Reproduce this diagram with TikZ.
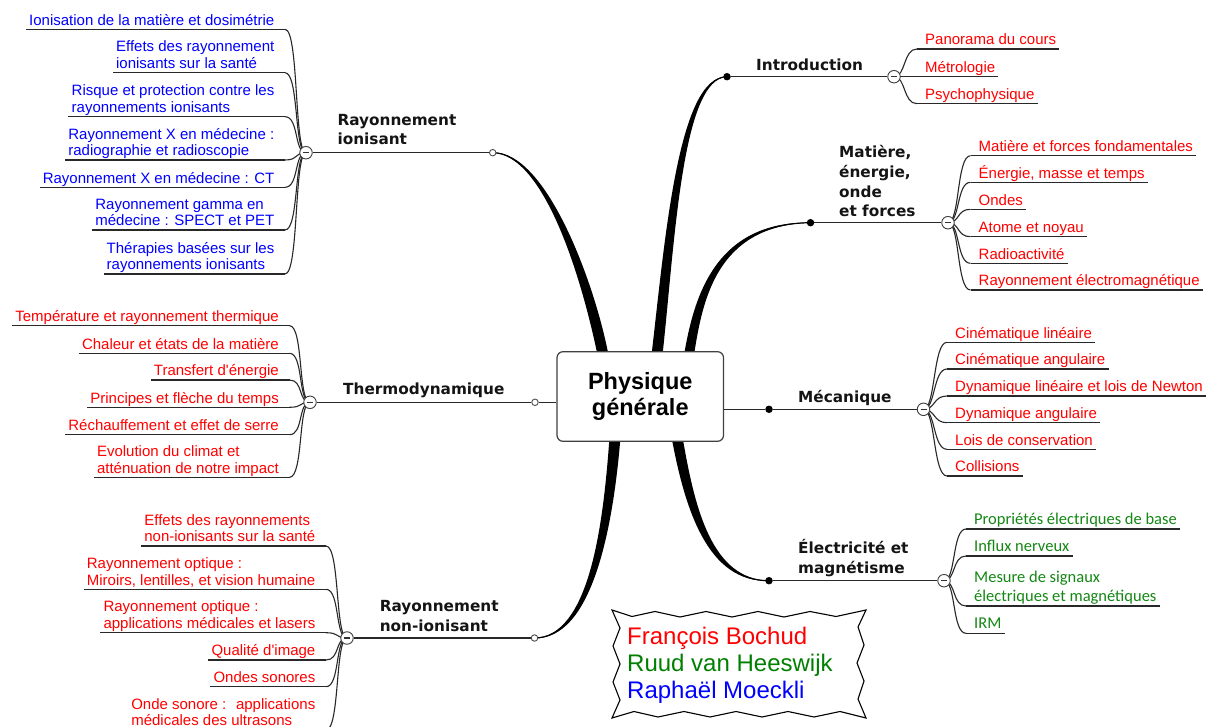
\documentclass[tikz,border=0pt]{standalone}
\usepackage{fontspec}
\setmainfont{Liberation Sans}
\newfontfamily\catfont{DejaVu Sans}
\newfontfamily\grfont{Carlito}
\usetikzlibrary{calc}
\pgfdeclarelayer{bg}
\pgfsetlayers{bg,main}
\definecolor{itred}{RGB}{255,0,0}
\definecolor{itblue}{RGB}{0,0,255}
\definecolor{itgreen}{RGB}{0,128,0}
\definecolor{grn}{RGB}{20,135,20}
\definecolor{lnc}{RGB}{40,40,40}
\tikzset{
  rtxt/.style={anchor=south west, inner sep=0pt, align=left, font=\fontsize{15}{16.7}\selectfont},
  ltxt/.style={anchor=south east, inner sep=0pt, align=left, font=\fontsize{15}{16.7}\selectfont},
  redR/.style={rtxt, text=itred},
  redL/.style={ltxt, text=itred},
  blueL/.style={ltxt, text=itblue},
  greenR/.style={anchor=south west, inner sep=0pt, align=left, font=\grfont\fontsize{16.5}{19}\selectfont, text=grn},
  cat/.style={anchor=south west, inner sep=0pt, align=left, font=\catfont\bfseries\fontsize{15.3}{19.7}\selectfont, text=black!92},
  uline/.style={draw=lnc, line width=1.1pt},
  conn/.style={draw=lnc, line width=1.1pt},
  mline/.style={draw=lnc, line width=1.3pt},
  mcirc/.style={circle, draw=black!75, fill=white, line width=0.9pt, minimum size=12.5pt, inner sep=0pt,
    path picture={\draw[line width=1.2pt, black!80] ([xshift=-3pt]path picture bounding box.center) -- ([xshift=3pt]path picture bounding box.center);}},
  dotn/.style={circle, fill=black, minimum size=7.5pt, inner sep=0pt},
  opn/.style={circle, draw=black!70, fill=white, line width=0.9pt, minimum size=6.5pt, inner sep=0pt},
  centre/.style={draw=black!75, line width=1.2pt, fill=white, rounded corners=6pt, minimum width=166.5pt, minimum height=89.6pt, align=center, font=\bfseries\fontsize{23.5}{26.7}\selectfont},
  branch/.style={fill=black},
  spine/.style={draw=black, line width=1.2pt},
}
% right-hand sub-topic: id, circle, underline start x, underline y, style, text
\newcommand\RItem[6]{%
  \coordinate (#1u) at (#3,#4);
  \node[#5] (#1) at (#3+8,#4+1) {#6\strut};
  \begin{pgfonlayer}{bg}
    \draw[uline] (#1u) -- ($(#1.south east |- #1u)+(3,0)$);
    \draw[conn] (#2.center) .. controls +(12,0) and +(-14,0) .. (#1u);
  \end{pgfonlayer}}
% left-hand sub-topic: id, circle, underline end x, underline y, style, text
\newcommand\LItem[6]{%
  \coordinate (#1u) at (#3,#4);
  \node[#5] (#1) at (#3-10.5,#4+1) {#6\strut};
  \begin{pgfonlayer}{bg}
    \draw[uline] (#1u) -- ($(#1.south west |- #1u)+(-3,0)$);
    \draw[conn] (#2.center) .. controls +(-12,0) and +(14,0) .. (#1u);
  \end{pgfonlayer}}
\begin{document}
\begin{tikzpicture}[x=1pt,y=-1pt]
\useasboundingbox (0,0) rectangle (1209,727);
\begin{pgfonlayer}{bg}
  \fill[white] (0,0) rectangle (1209,727);
\end{pgfonlayer}

% central topic
\node[centre] (box) at (640.25,396.5) {Physique\\générale};

% knots
\node[dotn] (D1) at (727,76.7) {};
\node[dotn] (D2) at (810.5,222.7) {};
\node[dotn] (D3) at (769,409.3) {};
\node[dotn] (D4) at (769,580.7) {};
\node[opn] (O1) at (492.7,152.7) {};
\node[opn] (O2) at (535,402.3) {};
\node[opn] (O3) at (534.5,638) {};
\node[mcirc] (C4) at (894,76.7) {};
\node[mcirc] (C5) at (948,222.7) {};
\node[mcirc] (C6) at (923.5,409.3) {};
\node[mcirc] (C7) at (944,580.7) {};
\node[mcirc] (C1) at (306,152.7) {};
\node[mcirc] (C2) at (310,402.3) {};
\node[mcirc] (C3) at (347,638) {};

% branch bases
\coordinate (bA) at (603,355);
\coordinate (bB) at (657,355);
\coordinate (bC) at (689,355);
\coordinate (bE) at (677,437);
\coordinate (bF) at (615,437);

\begin{pgfonlayer}{bg}
  % tapered main branches
  \fill[branch] (597.5,355) .. controls (582,280) and (545,155) .. (O1.center)
     .. controls (545,150) and (594,280) .. (608.5,355) -- cycle;
  \draw[spine] (bA) .. controls (588,280) and (545,152.5) .. (O1.center);
  \fill[branch] (651.5,355) .. controls (665,240) and (678,75) .. (D1.center)
     .. controls (682,79) and (675,240) .. (662.5,355) -- cycle;
  \draw[spine] (bB) .. controls (670,240) and (680,77) .. (D1.center);
  \fill[branch] (684,355) .. controls (693.5,300) and (713.5,221) .. (D2.center)
     .. controls (716.5,225.5) and (702.5,300) .. (694,355) -- cycle;
  \draw[spine] (bC) .. controls (698,300) and (715,223.5) .. (D2.center);
  \fill[branch] (671.5,437) .. controls (685,510) and (708,583) .. (D4.center)
     .. controls (712,579) and (695,510) .. (682.5,437) -- cycle;
  \draw[spine] (bE) .. controls (690,510) and (710,581) .. (D4.center);
  \fill[branch] (609.5,437) .. controls (603,530) and (588.5,636) .. (O3.center)
     .. controls (591.5,640) and (613,530) .. (620.5,437) -- cycle;
  \draw[spine] (bF) .. controls (608,530) and (590,638) .. (O3.center);
  % straight stems
  \draw[mline] (box.east |- D3) -- (D3);
  \draw[mline] (box.west |- O2) -- (O2);
  \draw[mline] (D1) -- (C4);
  \draw[mline] (D2) -- (C5);
  \draw[mline] (D3) -- (C6);
  \draw[mline] (D4) -- (C7);
  \draw[mline] (O1) -- (C1);
  \draw[mline] (O2) -- (C2);
  \draw[mline] (O3) -- (C3);
\end{pgfonlayer}

% main topic labels
\node[cat] (L1) at (756,76.5) {Introduction\strut};
\node[cat] (L2) at (839,222.9) {Matière,\\énergie,\\onde\\et forces\strut};
\node[cat] (L3) at (798,408.3) {Mécanique\strut};
\node[cat] (L4) at (798,579.3) {Électricité et\\magnétisme\strut};
\node[cat] (L5) at (337.3,150.9) {Rayonnement\\ionisant\strut};
\node[cat] (L6) at (343,400.9) {Thermodynamique\strut};
\node[cat] (L7) at (379.6,637.2) {Rayonnement\\non-ionisant\strut};

% Introduction
\RItem{i1}{C4}{917}{49}{redR}{Panorama du cours}
\RItem{i2}{C4}{917}{76.7}{redR}{Métrologie}
\RItem{i3}{C4}{917}{103.7}{redR}{Psychophysique}
% Matière
\RItem{m1}{C5}{970.5}{155.7}{redR}{Matière et forces fondamentales}
\RItem{m2}{C5}{970.5}{182.3}{redR}{Énergie, masse et temps}
\RItem{m3}{C5}{970.5}{209.3}{redR}{Ondes}
\RItem{m4}{C5}{970.5}{236.7}{redR}{Atome et noyau}
\RItem{m5}{C5}{970.5}{263.3}{redR}{Radioactivité}
\RItem{m6}{C5}{970.5}{290}{redR}{Rayonnement électromagnétique}
% Mécanique
\RItem{k1}{C6}{947}{342.3}{redR}{Cinématique linéaire}
\RItem{k2}{C6}{947}{369}{redR}{Cinématique angulaire}
\RItem{k3}{C6}{947}{396}{redR}{Dynamique linéaire et lois de Newton}
\RItem{k4}{C6}{947}{422.7}{redR}{Dynamique angulaire}
\RItem{k5}{C6}{947}{449.3}{redR}{Lois de conservation}
\RItem{k6}{C6}{947}{476}{redR}{Collisions}
% Électricité
\RItem{e1}{C7}{966}{529}{greenR}{Propriétés électriques de base}
\RItem{e2}{C7}{966}{556}{greenR}{Influx nerveux}
\RItem{e3}{C7}{966}{606}{greenR}{Mesure de signaux\\électriques et magnétiques}
\RItem{e4}{C7}{966}{633.3}{greenR}{IRM}
% Rayonnement ionisant
\LItem{r1}{C1}{285}{29.3}{blueL}{Ionisation de la matière et dosimétrie}
\LItem{r2}{C1}{285}{72.7}{blueL}{Effets des rayonnement\\ionisants sur la santé}
\LItem{r3}{C1}{285}{116.7}{blueL}{Risque et protection contre les\\rayonnements ionisants}
\LItem{r4}{C1}{285}{160}{blueL}{Rayonnement X en médecine :\\radiographie et radioscopie}
\LItem{r5}{C1}{285}{187.3}{blueL}{Rayonnement X en médecine : CT}
\LItem{r6}{C1}{285}{230}{blueL}{Rayonnement gamma en\\médecine : SPECT et PET}
\LItem{r7}{C1}{285}{274}{blueL}{Thérapies basées sur les\\rayonnements ionisants}
% Thermodynamique
\LItem{t1}{C2}{289.5}{325.7}{redL}{Température et rayonnement thermique}
\LItem{t2}{C2}{289.5}{353.3}{redL}{Chaleur et états de la matière}
\LItem{t3}{C2}{289.5}{380}{redL}{Transfert d\textquotesingle énergie}
\LItem{t4}{C2}{289.5}{407.3}{redL}{Principes et flèche du temps}
\LItem{t5}{C2}{289.5}{434.7}{redL}{Réchauffement et effet de serre}
\LItem{t6}{C2}{289.5}{477.3}{redL}{Evolution du climat et\\atténuation de notre impact}
% Rayonnement non-ionisant
\LItem{n1}{C3}{326}{546}{redL}{Effets des rayonnements\\non-ionisants sur la santé}
\LItem{n2}{C3}{326}{589.3}{redL}{Rayonnement optique :\\Miroirs, lentilles, et vision humaine}
\LItem{n3}{C3}{326}{632.7}{redL}{Rayonnement optique :\\applications médicales et lasers}
\LItem{n4}{C3}{326}{660}{redL}{Qualité d\textquotesingle image}
\LItem{n5}{C3}{326}{686.7}{redL}{Ondes sonores}
\LItem{n6}{C3}{326}{730}{redL}{Onde sonore :~ applications\\médicales des ultrasons}

% authors callout
\draw[black, line width=1.1pt, fill=white]
  (612,610) -- (632,616.5) -- (655,611.5) -- (680,617) -- (706,611.5) -- (732,617)
  -- (758,611.5) -- (784,617) -- (810,611.5) -- (836,616.5) -- (866,610)
  -- (858,627) -- (864,645) -- (857,663) -- (864,681) -- (858,699) -- (866,718)
  -- (840,711.5) -- (814,717) -- (788,711.5) -- (762,717) -- (736,711.5) -- (710,717)
  -- (684,711.5) -- (658,717) -- (634,711.5) -- (612,718)
  -- (620,700) -- (613,682) -- (620,664) -- (613,646) -- (620,628) -- cycle;
\node[anchor=south west, inner sep=0pt, align=left, font=\fontsize{24}{27.2}\selectfont] (auth) at (627,707.2)
  {\textcolor{itred}{François Bochud}\\\textcolor{itgreen}{Ruud van Heeswijk}\\\textcolor{itblue}{Raphaël Moeckli}\strut};
\end{tikzpicture}
\end{document}
